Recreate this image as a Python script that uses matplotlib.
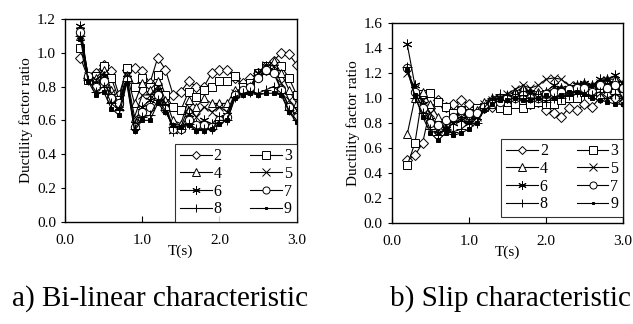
import matplotlib
matplotlib.use("Agg")
from matplotlib import pyplot as plt
import numpy as np

plt.rcParams['font.family'] = ['Liberation Serif', 'DejaVu Serif']

# periods T(s)
T = [0.2, 0.3, 0.4, 0.5, 0.6, 0.7, 0.8, 0.9, 1.0, 1.1, 1.2, 1.3, 1.4, 1.5, 1.6,
     1.7, 1.8, 1.9, 2.0, 2.1, 2.2, 2.3, 2.4, 2.5, 2.6, 2.7, 2.8, 2.9, 3.0]
labels = ['2', '3', '4', '5', '6', '7', '8', '9']

# a) bi-linear characteristic
bi_2 = [0.97, 0.85, 0.88, 0.93, 0.89, 0.75, 0.90, 0.91, 0.89, 0.82, 0.97, 0.90, 0.75, 0.77, 0.83,
        0.80, 0.80, 0.88, 0.90, 0.90, 0.85, 0.82, 0.85, 0.88, 0.90, 0.95, 1.00, 0.99, 0.93]
bi_3 = [1.03, 0.84, 0.86, 0.92, 0.85, 0.72, 0.91, 0.80, 0.85, 0.80, 0.87, 0.75, 0.68, 0.66, 0.77,
        0.74, 0.78, 0.80, 0.83, 0.83, 0.86, 0.80, 0.82, 0.88, 0.92, 0.92, 0.92, 0.85, 0.75]
bi_4 = [1.10, 0.86, 0.85, 0.90, 0.78, 0.70, 0.87, 0.70, 0.82, 0.78, 0.83, 0.72, 0.60, 0.58, 0.72,
        0.68, 0.73, 0.70, 0.70, 0.70, 0.78, 0.78, 0.80, 0.86, 0.90, 0.95, 0.88, 0.78, 0.70]
bi_5 = [1.13, 0.86, 0.84, 0.88, 0.76, 0.68, 0.86, 0.62, 0.75, 0.75, 0.80, 0.70, 0.55, 0.56, 0.68,
        0.62, 0.68, 0.65, 0.68, 0.65, 0.76, 0.78, 0.80, 0.88, 0.93, 0.92, 0.82, 0.72, 0.66]
bi_6 = [1.16, 0.85, 0.82, 0.86, 0.72, 0.68, 0.85, 0.58, 0.68, 0.72, 0.78, 0.68, 0.54, 0.55, 0.64,
        0.58, 0.60, 0.58, 0.62, 0.63, 0.75, 0.77, 0.80, 0.88, 0.92, 0.90, 0.78, 0.68, 0.63]
bi_7 = [1.12, 0.86, 0.80, 0.83, 0.73, 0.70, 0.84, 0.56, 0.65, 0.68, 0.75, 0.67, 0.55, 0.55, 0.60,
        0.57, 0.57, 0.56, 0.60, 0.62, 0.75, 0.78, 0.80, 0.85, 0.90, 0.88, 0.78, 0.68, 0.62]
bi_8 = [1.10, 0.84, 0.77, 0.80, 0.70, 0.66, 0.83, 0.55, 0.62, 0.63, 0.72, 0.66, 0.56, 0.55, 0.58,
        0.55, 0.55, 0.55, 0.60, 0.60, 0.74, 0.76, 0.77, 0.76, 0.78, 0.80, 0.76, 0.66, 0.60]
bi_9 = [1.08, 0.83, 0.75, 0.77, 0.67, 0.63, 0.82, 0.54, 0.60, 0.60, 0.70, 0.65, 0.57, 0.56, 0.57,
        0.54, 0.54, 0.55, 0.58, 0.60, 0.73, 0.75, 0.76, 0.75, 0.76, 0.76, 0.75, 0.65, 0.59]

# b) slip characteristic
sl_2 = [0.50, 0.54, 0.64, 0.92, 0.98, 0.93, 0.95, 0.98, 0.95, 0.90, 0.92, 0.93, 0.95, 0.95, 0.96,
        0.97, 0.95, 0.97, 0.90, 0.88, 0.85, 0.92, 0.90, 0.95, 0.93, 1.00, 1.02, 1.00, 0.97]
sl_3 = [0.46, 0.64, 1.03, 1.04, 0.97, 0.93, 0.88, 0.90, 0.88, 0.92, 0.93, 0.95, 0.92, 0.90, 0.95,
        0.92, 0.95, 0.97, 0.95, 0.95, 0.98, 1.00, 1.00, 1.05, 1.03, 1.10, 1.08, 1.10, 1.08]
sl_4 = [0.71, 1.00, 1.05, 0.95, 0.85, 0.80, 0.85, 0.88, 0.85, 0.90, 0.97, 1.00, 1.00, 1.02, 1.05,
        1.08, 1.05, 1.05, 1.05, 1.07, 1.08, 1.05, 1.10, 1.12, 1.10, 1.12, 1.15, 1.15, 1.12]
sl_5 = [1.20, 1.08, 0.98, 0.88, 0.75, 0.78, 0.82, 0.85, 0.82, 0.85, 0.95, 0.98, 1.00, 1.03, 1.07,
        1.10, 1.08, 1.10, 1.15, 1.16, 1.15, 1.10, 1.10, 1.10, 1.08, 1.12, 1.14, 1.10, 1.00]
sl_6 = [1.43, 1.10, 0.95, 0.82, 0.72, 0.75, 0.80, 0.82, 0.80, 0.85, 0.93, 0.97, 1.00, 1.00, 1.02,
        1.05, 1.05, 1.02, 1.05, 1.10, 1.08, 1.07, 1.10, 1.12, 1.10, 1.15, 1.15, 1.18, 1.12]
sl_7 = [1.24, 1.05, 0.92, 0.80, 0.78, 0.82, 0.85, 0.90, 0.88, 0.88, 0.93, 0.95, 0.97, 1.00, 1.00,
        1.02, 1.00, 1.00, 1.03, 1.05, 1.05, 1.07, 1.08, 1.08, 1.05, 1.10, 1.08, 1.10, 1.08]
sl_8 = [1.25, 1.00, 0.88, 0.75, 0.70, 0.75, 0.73, 0.75, 0.80, 0.80, 0.92, 1.00, 1.03, 1.02, 1.00,
        1.02, 1.00, 1.00, 0.97, 1.00, 1.00, 1.02, 1.05, 1.03, 1.02, 1.05, 1.00, 1.03, 1.00]
sl_9 = [1.22, 1.02, 0.85, 0.72, 0.66, 0.72, 0.70, 0.72, 0.75, 0.80, 0.90, 0.95, 0.98, 0.98, 1.00,
        0.98, 0.98, 1.00, 1.02, 1.00, 1.02, 1.05, 1.05, 1.03, 1.00, 0.98, 0.97, 0.95, 0.95]

bilinear = [bi_2, bi_3, bi_4, bi_5, bi_6, bi_7, bi_8, bi_9]
slip = [sl_2, sl_3, sl_4, sl_5, sl_6, sl_7, sl_8, sl_9]

# marker style per series: (marker, size, filled)
styles = [('D', 5, False), ('s', 6, False), ('^', 6, False), ('x', 6, True),
          ((6, 2, 0), 7, True), ('o', 6, False), ('+', 7, True), ('s', 2.2, True)]


def draw(ax, data, ymax, legend_y):
    handles = []
    for vals, lab, (m, ms, filled) in zip(data, labels, styles):
        h, = ax.plot(T, vals, color='k', lw=0.8, marker=m, markersize=ms,
                     markerfacecolor='k' if filled else 'white',
                     markeredgecolor='k', markeredgewidth=0.7, label=lab)
        handles.append(h)
    ax.set_xlim(0, 3)
    ax.set_ylim(0, ymax)
    ax.set_xticks([0, 1, 2, 3])
    ax.set_xticklabels(['0.0', '1.0', '2.0', '3.0'])
    yt = np.arange(0, ymax + 0.01, 0.2)
    ax.set_yticks(yt)
    ax.set_yticklabels([f'{v:.1f}' for v in yt])
    ax.tick_params(axis='x', direction='in', length=4, width=0.8, labelsize=11, pad=9)
    ax.tick_params(axis='y', direction='out', length=3, width=0.8, labelsize=11)
    for s in ax.spines.values():
        s.set_linewidth(1.0)
    ax.set_xlabel('T(s)', fontsize=11, labelpad=-2)
    ax.set_ylabel('Ductility factor ratio', fontsize=11, labelpad=3)
    # legend row-wise: 2 3 / 4 5 / 6 7 / 8 9
    order = [0, 2, 4, 6, 1, 3, 5, 7]
    leg = ax.legend([handles[i] for i in order], [labels[i] for i in order],
                    ncol=2, loc='lower right', bbox_to_anchor=(1.0, legend_y),
                    fontsize=11.5, frameon=True, fancybox=False, edgecolor='k',
                    borderaxespad=0, labelspacing=0.1, handlelength=2.0,
                    handletextpad=0.1, columnspacing=1.8, borderpad=0.3,
                    markerscale=0.85)
    leg.get_frame().set_linewidth(0.8)


fig = plt.figure(figsize=(6.33, 3.24), dpi=100)
ax1 = fig.add_axes([0.1027, 0.315, 0.366, 0.627])
ax2 = fig.add_axes([0.619, 0.312, 0.365, 0.617])

draw(ax1, bilinear, 1.2, 0.0)
draw(ax2, slip, 1.6, 0.03)

fig.text(0.253, 0.078, 'a) Bi-linear characteristic', fontsize=21, ha='center', va='center')
fig.text(0.807, 0.078, 'b) Slip characteristic', fontsize=21, ha='center', va='center')

fig.savefig('out.png', dpi=100)
